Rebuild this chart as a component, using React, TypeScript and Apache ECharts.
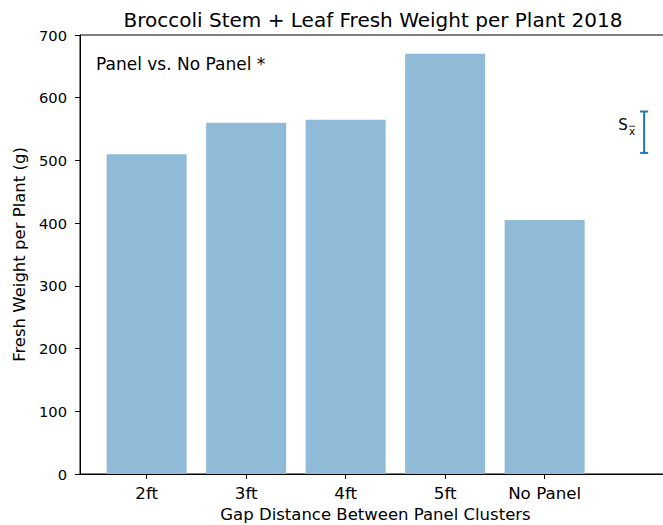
import React, { useEffect, useRef } from "react";
import * as echarts from "echarts";

const categories = ["2ft", "3ft", "4ft", "5ft", "No Panel"];
const freshWeight = [510, 560, 565, 670, 405];
const errorBar = [5, 512, 578]; // x position, low, high
const yTicks = [0, 100, 200, 300, 400, 500, 600, 700];
const titleText = "Broccoli Stem + Leaf Fresh Weight per Plant 2018";
const noteText = "Panel vs. No Panel *";

const FONT = "DejaVu Sans";

export default function App() {
  const ref = useRef<HTMLDivElement>(null);
  useEffect(() => {
    if (!ref.current) return;
    const chart = echarts.init(ref.current, null, { renderer: "svg" });
    const tickIdx = categories.map((_, i) => i);
    chart.setOption({
      animation: false,
      backgroundColor: "#fff",
      title: {
        text: titleText,
        left: 368,
        top: 5,
        textAlign: "center",
        textStyle: { fontFamily: FONT, fontSize: 20, fontWeight: "normal", color: "#000" },
      },
      grid: {
        left: 80,
        top: 35,
        width: 591,
        bottom: 51,
        containLabel: false,
        outerBoundsMode: "none",
        show: true,
        borderColor: "#000",
        borderWidth: 1,
        backgroundColor: "transparent",
      },
      xAxis: {
        type: "value",
        min: -0.67,
        max: 5.27,
        name: "Gap Distance Between Panel Clusters",
        nameLocation: "middle",
        nameGap: 31,
        nameTextStyle: { fontFamily: FONT, fontSize: 16.5, color: "#000" },
        axisLine: { show: true, onZero: false, lineStyle: { color: "#000", width: 1 } },
        axisTick: { show: true, customValues: tickIdx, length: 5, lineStyle: { color: "#000" } },
        axisLabel: {
          customValues: tickIdx,
          formatter: (v: number) => categories[Math.round(v)] ?? "",
          fontFamily: FONT,
          fontSize: 16.7,
          color: "#000",
          margin: 10,
        },
        splitLine: { show: false },
      },
      yAxis: {
        type: "value",
        min: yTicks[0],
        max: yTicks[yTicks.length - 1],
        interval: 100,
        name: "Fresh Weight per Plant (g)",
        nameLocation: "middle",
        nameGap: 52,
        nameTextStyle: { fontFamily: FONT, fontSize: 16.5, color: "#000" },
        axisLine: { show: true, onZero: false, lineStyle: { color: "#000", width: 1 } },
        axisTick: { show: true, length: 5, lineStyle: { color: "#000" } },
        axisLabel: { fontFamily: FONT, fontSize: 14.7, color: "#000", margin: 13 },
        splitLine: { show: false },
      },
      graphic: [
        {
          type: "text",
          left: 96,
          top: 55,
          style: { text: noteText, font: `17px "${FONT}"`, fill: "#000" },
        },
      ],
      series: [
        {
          type: "bar",
          data: freshWeight.map((v, i) => [i, v]),
          barWidth: 80,
          itemStyle: { color: "#8fbbd9" },
        },
        {
          type: "custom",
          data: [[errorBar[0], errorBar[1], errorBar[2], (errorBar[1] + errorBar[2]) / 2]],
          renderItem: (params: any, api: any) => {
            const x = api.value(0);
            const top = api.coord([x, api.value(2)]);
            const bot = api.coord([x, api.value(1)]);
            const mid = api.coord([x, api.value(3)]);
            const stroke = { stroke: "#1f77b4", lineWidth: 2 };
            return {
              type: "group",
              children: [
                { type: "line", shape: { x1: top[0], y1: top[1], x2: bot[0], y2: bot[1] }, style: stroke },
                { type: "line", shape: { x1: top[0] - 4, y1: top[1], x2: top[0] + 4, y2: top[1] }, style: stroke },
                { type: "line", shape: { x1: bot[0] - 4, y1: bot[1], x2: bot[0] + 4, y2: bot[1] }, style: stroke },
                {
                  type: "text",
                  style: {
                    text: "S",
                    x: top[0] - 21,
                    y: mid[1] - 7,
                    align: "center",
                    verticalAlign: "middle",
                    font: `15px "${FONT}"`,
                    fill: "#000",
                  },
                },
                {
                  type: "text",
                  style: {
                    text: "x",
                    x: top[0] - 12,
                    y: mid[1] - 1,
                    align: "center",
                    verticalAlign: "middle",
                    font: `10.5px "${FONT}"`,
                    fill: "#000",
                  },
                },
                {
                  type: "line",
                  shape: { x1: top[0] - 15, y1: mid[1] - 6, x2: top[0] - 9, y2: mid[1] - 6 },
                  style: { stroke: "#000", lineWidth: 0.8 },
                },
              ],
            };
          },
        },
      ],
    });
    return () => chart.dispose();
  }, []);
  return (
    <div
      ref={ref}
      style={{ position: "fixed", left: 0, top: 0, width: 663, height: 525 }}
    />
  );
}
